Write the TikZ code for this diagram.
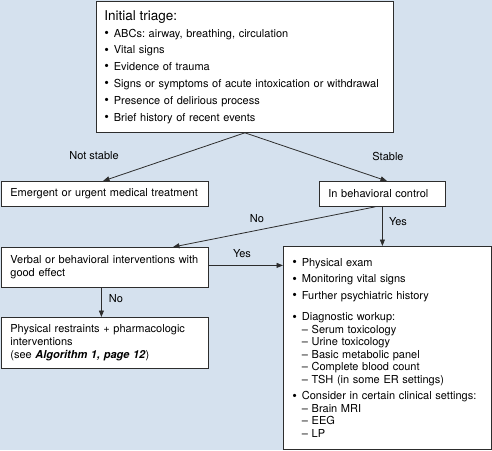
\documentclass[tikz,border=0pt]{standalone}
\usepackage{fontspec}
\setmainfont{TeX Gyre Heros}
\usetikzlibrary{arrows.meta,calc}
\definecolor{bg}{RGB}{213,225,238}
\definecolor{ln}{RGB}{45,45,45}
\frenchspacing
\newcommand\bul{\makebox[9.5pt][l]{\raisebox{-0.3pt}{\scalebox{1.2}{•}}}}
\newcommand\subi{\makebox[9.5pt][l]{}–\ }
\begin{document}
\begin{tikzpicture}[x=1pt,y=-1pt,
  box/.style={draw=ln, line width=0.8pt, fill=white, anchor=north west,
    inner xsep=9pt, inner ysep=0pt, align=left, font=\fontsize{11}{13}\selectfont},
  lbl/.style={font=\fontsize{11}{13}\selectfont, inner sep=0pt},
  arr/.style={draw=ln, line width=0.8pt, -{Triangle[length=6.5pt,width=5pt]}}]
\fill[bg] (0,0) rectangle (492,450);
\useasboundingbox (0,0) rectangle (492,450);

\node[box, inner xsep=8pt, text width=281pt, minimum height=131pt,
  font=\fontsize{11}{16.8}\selectfont] (triage) at (96,1)
 {{\fontsize{13.5}{16}\selectfont Initial triage:}\\
  \mbox{\bul ABCs: airway, breathing, circulation}\\
  \mbox{\bul Vital signs}\\
  \mbox{\bul Evidence of trauma}\\
  \mbox{\bul Signs or symptoms of acute intoxication or withdrawal}\\
  \mbox{\bul Presence of delirious process}\\
  \mbox{\bul Brief history of recent events}};

\node[box, text width=189pt, minimum height=25pt] (emerg) at (1,181)
 {\mbox{Emergent or urgent medical treatment}};
\node[box, text width=108pt, minimum height=25pt] (behav) at (319,181)
 {\mbox{In behavioral control}};
\node[box, text width=189pt, minimum height=40pt] (verbal) at (1,247)
 {\mbox{Verbal or behavioral interventions with}\\good effect};
\node[box, text width=189pt, minimum height=51pt] (restr) at (1,317)
 {\mbox{Physical restraints + pharmacologic}\\interventions\\
  \mbox{(see \textbf{\textit{Algorithm 1, page 12}})}};
\node[box, text width=190pt, minimum height=203pt,
  font=\fontsize{11}{12.5}\selectfont] (workup) at (283,246)
 {\mbox{\bul Physical exam}\\[4pt]
  \mbox{\bul Monitoring vital signs}\\[4pt]
  \mbox{\bul Further psychiatric history}\\[9pt]
  \mbox{\bul Diagnostic workup:}\\
  \mbox{\subi Serum toxicology}\\
  \mbox{\subi Urine toxicology}\\
  \mbox{\subi Basic metabolic panel}\\
  \mbox{\subi Complete blood count}\\
  \mbox{\subi TSH (in some ER settings)}\\[4pt]
  \mbox{\bul Consider in certain clinical settings:}\\
  \mbox{\subi Brain MRI}\\
  \mbox{\subi EEG}\\
  \mbox{\subi LP}};

\draw[arr] (triage.south) -- ($(emerg.north west)+(102,0)$);
\draw[arr] (triage.south) -- ($(behav.north west)+(68,0)$);
\draw[arr] ([xshift=-7pt]behav.south) -- ($(verbal.north west)+(172,0)$);
\draw[arr] (behav.south) -- (behav.south |- workup.north);
\draw[arr] ([yshift=2pt]verbal.east) -- ([yshift=2pt]verbal.east -| workup.west);
\draw[arr] ([xshift=-3.5pt]verbal.south) -- ([xshift=-3.5pt]verbal.south |- restr.north);

\node[lbl] (lns) at (94,156) {Not stable};
\node[lbl] (ls) at (388,156) {Stable};
\node[lbl] (lno1) at (257,219) {No};
\node[lbl] (lyes1) at (398,222) {Yes};
\node[lbl] (lyes2) at (242,254) {Yes};
\node[lbl] (lno2) at (116,299) {No};
\end{tikzpicture}
\end{document}
